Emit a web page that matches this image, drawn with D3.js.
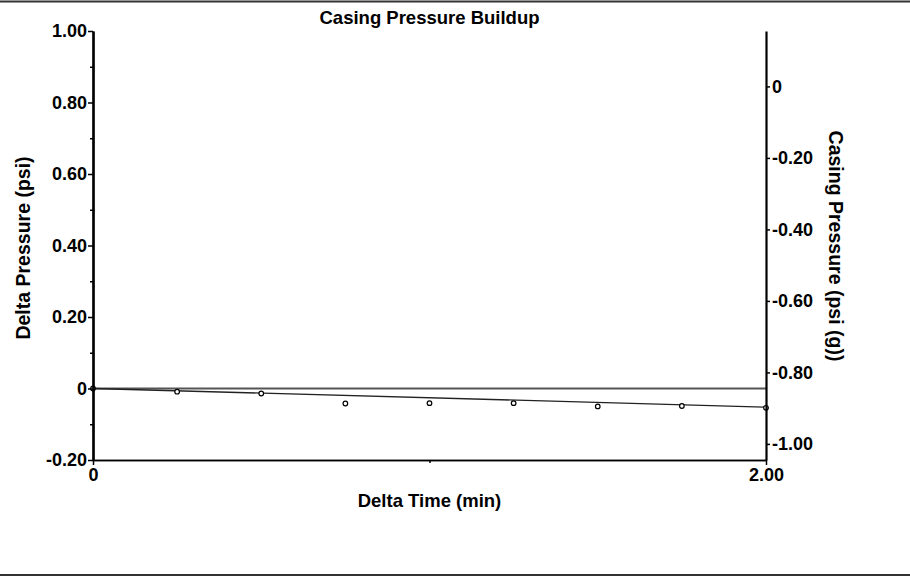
<!DOCTYPE html>
<html>
<head>
<meta charset="utf-8">
<script src="https://cdn.jsdelivr.net/npm/d3@7"></script>
<style>
  body { margin: 0; background: #fff; }
  svg { display: block; font-family: "Liberation Sans", Arial, sans-serif; font-weight: bold; }
</style>
</head>
<body>
<script>
// measured points (delta time in min, delta pressure in psi)
const deltaTime = [0, 0.25, 0.5, 0.75, 1.0, 1.25, 1.5, 1.75, 2.0];
const deltaPressure = [0, -0.009, -0.014, -0.042, -0.041, -0.041, -0.050, -0.049, -0.054];

// straight-line fit drawn through the points
const fitTime = [0, 2.0];
const fitPressure = [0, -0.052];

const leftTicks = [-0.2, 0, 0.2, 0.4, 0.6, 0.8, 1.0];
const leftMinorTicks = [-0.1, 0.1, 0.3, 0.5, 0.7, 0.9];
const rightTicks = [-1.0, -0.8, -0.6, -0.4, -0.2, 0];
const xTicks = [0, 2.0];
const xMinorTicks = [1.0];

// casing pressure = delta pressure + initial casing pressure
const initialCasing = -0.845;

const width = 910;
const height = 581;
const margin = {top: 31, right: 144, bottom: 121, left: 93};

const svg = d3.select("body").append("svg")
    .attr("width", width)
    .attr("height", height);

const x = d3.scaleLinear()
    .domain([0, 2.0])
    .range([margin.left, width - margin.right]);

const y = d3.scaleLinear()
    .domain([-0.2, 1.0])
    .range([height - margin.bottom, margin.top]);

const yRight = d3.scaleLinear()
    .domain(y.domain().map(d => d + initialCasing))
    .range(y.range());

const fmt = d => Math.abs(d) < 1e-9 ? "0" : d3.format(".2f")(d).replace("\u2212", "-");

// page border lines
svg.append("line").attr("x1", 0).attr("x2", width).attr("y1", 1.5).attr("y2", 1.5)
    .attr("stroke", "#333").attr("stroke-width", 2);
svg.append("line").attr("x1", 0).attr("x2", width).attr("y1", 575).attr("y2", 575)
    .attr("stroke", "#333").attr("stroke-width", 2);

// zero reference line
svg.append("line")
    .attr("x1", x(0)).attr("x2", x(2.0))
    .attr("y1", y(0)).attr("y2", y(0))
    .attr("stroke", "#555")
    .attr("stroke-width", 2);

const line = d3.line()
    .x(d => x(d[0]))
    .y(d => y(d[1]));

svg.append("path")
    .datum(d3.zip(fitTime, fitPressure))
    .attr("fill", "none")
    .attr("stroke", "#222")
    .attr("stroke-width", 1.3)
    .attr("d", line);

svg.append("g")
  .selectAll("circle")
  .data(d3.zip(deltaTime, deltaPressure))
  .join("circle")
    .attr("cx", d => x(d[0]))
    .attr("cy", d => y(d[1]))
    .attr("r", 2.3)
    .attr("fill", "#fff")
    .attr("stroke", "#000")
    .attr("stroke-width", 1.2);

const styleAxis = (g) => {
  g.select(".domain").attr("stroke", "#000").attr("stroke-width", 2.2);
  g.selectAll(".tick line").attr("stroke", "#000").attr("stroke-width", 1.5);
  g.selectAll(".tick text")
    .attr("font-size", 18)
    .attr("font-weight", "bold")
    .attr("font-family", "Liberation Sans, Arial, sans-serif")
    .attr("fill", "#000");
};

// left axis
svg.append("g")
    .attr("transform", `translate(${margin.left},0)`)
    .call(d3.axisLeft(y).tickValues(leftMinorTicks).tickSize(3).tickSizeOuter(0).tickFormat(""))
    .call(styleAxis);
svg.append("g")
    .attr("transform", `translate(${margin.left},0)`)
    .call(d3.axisLeft(y).tickValues(leftTicks).tickSize(5).tickSizeOuter(0).tickPadding(1).tickFormat(fmt))
    .call(styleAxis);

// right axis
svg.append("g")
    .attr("transform", `translate(${width - margin.right},0)`)
    .call(d3.axisRight(yRight).tickValues(rightTicks).tickSize(4).tickSizeOuter(0).tickPadding(2).tickFormat(fmt))
    .call(styleAxis);

// bottom axis
svg.append("g")
    .attr("transform", `translate(0,${height - margin.bottom})`)
    .call(d3.axisBottom(x).tickValues(xMinorTicks).tickSize(3).tickSizeOuter(0).tickFormat(""))
    .call(styleAxis)
    .call(g => g.select(".domain").attr("stroke-width", 1.5));
svg.append("g")
    .attr("transform", `translate(0,${height - margin.bottom})`)
    .call(d3.axisBottom(x).tickValues(xTicks).tickSize(5).tickSizeOuter(0).tickPadding(3).tickFormat(fmt))
    .call(styleAxis)
    .call(g => g.select(".domain").attr("stroke-width", 1.5));

// titles
svg.append("text")
    .attr("x", (x(0) + x(2.0)) / 2)
    .attr("y", 24)
    .attr("text-anchor", "middle")
    .attr("font-size", 18.5)
    .text("Casing Pressure Buildup");

svg.append("text")
    .attr("x", (x(0) + x(2.0)) / 2)
    .attr("y", 507)
    .attr("text-anchor", "middle")
    .attr("font-size", 18.5)
    .text("Delta Time (min)");

svg.append("text")
    .attr("transform", `translate(30,248) rotate(-90)`)
    .attr("text-anchor", "middle")
    .attr("font-size", 19.5)
    .text("Delta Pressure (psi)");

svg.append("text")
    .attr("transform", `translate(829,246) rotate(90)`)
    .attr("text-anchor", "middle")
    .attr("font-size", 19.5)
    .text("Casing Pressure (psi (g))");
</script>
</body>
</html>
